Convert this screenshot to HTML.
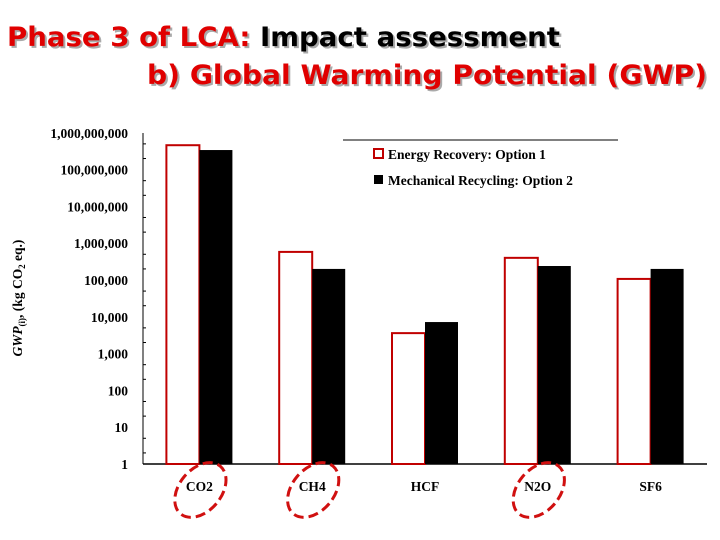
<!DOCTYPE html>
<html><head><meta charset="utf-8"><style>
body{margin:0;background:#fff;width:720px;height:540px;overflow:hidden}
svg{display:block}
.t{font-family:"DejaVu Sans",sans-serif;font-weight:bold;font-size:27px}
.s{font-family:"Liberation Serif",serif;font-weight:bold;font-size:13.5px}
</style></head><body>
<svg id="c" width="720" height="540">
<g>
<text class="t" x="9" y="48" fill="#aaa" textLength="553" lengthAdjust="spacingAndGlyphs">Phase 3 of LCA: Impact assessment</text>
<text class="t" x="7" y="46" textLength="553" lengthAdjust="spacingAndGlyphs"><tspan fill="#e00000">Phase 3 of LCA: </tspan><tspan fill="#000">Impact assessment</tspan></text>
<text class="t" x="149" y="86" fill="#aaa" textLength="560" lengthAdjust="spacingAndGlyphs">b)  Global Warming Potential (GWP)</text>
<text class="t" x="147" y="84" fill="#e00000" textLength="560" lengthAdjust="spacingAndGlyphs">b)  Global Warming Potential (GWP)</text>
</g>
<g id="plot"></g>
</svg>
<script>
const categories=["CO2","CH4","HCF","N2O","SF6"];
const option1=[4.6e8,5.8e5,3600,4.0e5,1.07e5];
const option2=[3.4e8,2.0e5,7200,2.4e5,2.0e5];
const tickLabels=["1","10","100","1,000","10,000","100,000","1,000,000","10,000,000","100,000,000","1,000,000,000"];
const circled=["CO2","CH4","N2O"];
const NS="http://www.w3.org/2000/svg";
const g=document.getElementById('plot');
const x0=143,x1=707,y0=464,dec=36.8;
const y=v=>y0-Math.log10(v)*dec;
const band=(x1-x0)/categories.length;
function mk(t,a,txt){const e=document.createElementNS(NS,t);for(const k in a)e.setAttribute(k,a[k]);if(txt!=null)e.textContent=txt;g.appendChild(e);return e;}
let ax=mk('line',{x1:x0,y1:133,x2:x0,y2:y0,stroke:'#000','stroke-width':1});


let bx=mk('line',{x1:x0,y1:y0,x2:x1,y2:y0,stroke:'#000','stroke-width':1.5});


tickLabels.forEach((l,i)=>{
 const yy=y(Math.pow(10,i));
 const t=mk('text',{x:128,y:yy+5,'text-anchor':'end',class:'s'},l);
 
 
 if(i<9){[2,5].forEach(m=>{const ty=y(m*Math.pow(10,i));const tk=mk('line',{x1:x0,y1:ty,x2:x0+3,y2:ty,stroke:'#000'});
 
 });}
});
const yt=mk('text',{transform:'translate(22,298) rotate(-90)','text-anchor':'middle',class:'s'},'');


yt.innerHTML='<tspan font-style="italic">GWP</tspan><tspan font-size="9" dy="3">(i)</tspan><tspan dy="-3">, (kg CO</tspan><tspan font-size="9" dy="3">2</tspan><tspan dy="-3"> eq.)</tspan>';
const bw=33;
categories.forEach((c,i)=>{
 const cx=x0+band*(i+0.5);
 const r=mk('rect',{x:cx-bw,y:y(option1[i]),width:bw,height:y0-y(option1[i]),fill:'#fff',stroke:'#c00000','stroke-width':2});
 
 
 const b=mk('rect',{x:cx,y:y(option2[i]),width:bw,height:y0-y(option2[i]),fill:'#000'});
 
 
 const t=mk('text',{x:cx,y:491,'text-anchor':'middle',class:'s'},c);
 
 
 if(circled.includes(c)){
  const e=mk('ellipse',{cx:cx+1,cy:490,rx:21,ry:31,transform:`rotate(40 ${cx+1} 490)`,fill:'none',stroke:'#d01010','stroke-width':3,'stroke-dasharray':'10 5'});
  
  
 }
});
const ll=mk('line',{x1:343,y1:140,x2:618,y2:140,stroke:'#000'});


const l1=mk('rect',{x:374,y:149,width:9,height:9,fill:'#fff',stroke:'#c00000','stroke-width':2});


const t1=mk('text',{x:388,y:159,class:'s'},'Energy Recovery: Option 1');


const l2=mk('rect',{x:374,y:175,width:9,height:9,fill:'#000'});


const t2=mk('text',{x:388,y:185,class:'s'},'Mechanical Recycling: Option 2');


</script>
</body></html>
